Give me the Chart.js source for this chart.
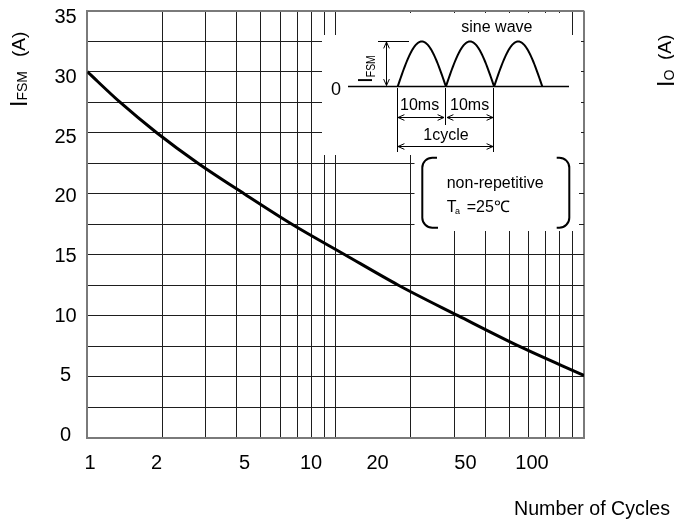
<!DOCTYPE html>
<html><head><meta charset="utf-8">
<script src="https://cdn.jsdelivr.net/npm/chart.js@4.4.0/dist/chart.umd.min.js"></script>
<style>html,body{margin:0;padding:0;background:#fff;}#wrap{width:674px;height:531px;position:relative;}</style>
</head><body><div id="wrap"><canvas id="c"></canvas></div>
<script>
// ---- data ----
const cycles = [1, 1.354, 1.903, 2.79, 4.28, 6.67, 10.9, 17.9, 31.1, 54.7, 100];
const ifsm   = [30, 27.5, 25.0, 22.5, 20.0, 17.5, 15.0, 12.5, 10.0, 7.5, 5.1];
const xGridValues = [1,2,3,4,5,6,7,8,9,10,20,30,40,50,60,70,80,90,100];
const xTickLabels = [1,2,5,10,20,50,100];
const yGridValues = [0,2.5,5,7.5,10,12.5,15,17.5,20,22.5,25,27.5,30,32.5,35];
const yTickLabels = [0,5,10,15,20,25,30,35];

const F = "'Liberation Sans', Arial, Helvetica, sans-serif";
const GRID = '#1e1e1e', FRAME = '#7a7a7a';

function txt(ctx, s, x, y, size, o) {
  o = o || {};
  ctx.save();
  ctx.font = size + 'px ' + F;
  ctx.fillStyle = '#000';
  ctx.textAlign = o.align || 'left';
  ctx.textBaseline = o.baseline || 'alphabetic';
  ctx.translate(x, y);
  if (o.rot) ctx.rotate(o.rot);
  if (o.sx) ctx.scale(o.sx, 1);
  ctx.fillText(s, 0, 0);
  ctx.restore();
}
function seg(ctx, x1, y1, x2, y2, w) {
  ctx.lineWidth = w || 1;
  ctx.beginPath(); ctx.moveTo(x1, y1); ctx.lineTo(x2, y2); ctx.stroke();
}
function head(ctx, x, y, ang) {
  const L = 7, a = 0.42;
  ctx.lineWidth = 1;
  ctx.beginPath();
  ctx.moveTo(x - L * Math.cos(ang - a), y - L * Math.sin(ang - a));
  ctx.lineTo(x, y);
  ctx.lineTo(x - L * Math.cos(ang + a), y - L * Math.sin(ang + a));
  ctx.stroke();
}
function vlabel(ctx, x, y, parts) {
  ctx.save();
  ctx.translate(x, y);
  ctx.rotate(-Math.PI / 2);
  ctx.fillStyle = '#000';
  ctx.textBaseline = 'alphabetic';
  for (const p of parts) {
    ctx.save();
    ctx.font = p.size + 'px ' + F;
    ctx.translate(p.dx, p.dy || 0);
    if (p.sx) ctx.scale(p.sx, 1);
    ctx.fillText(p.s, 0, 0);
    ctx.restore();
  }
  ctx.restore();
}

const insetPlugin = {
  id: 'inset',
  beforeDatasetsDraw(chart) {
    const ctx = chart.ctx;
    ctx.save();
    ctx.fillStyle = '#fff';
    ctx.fillRect(322, 35, 259, 120);
    ctx.fillRect(340, 13, 230, 22);
    ctx.fillRect(414.5, 155, 164.5, 76);
    ctx.restore();
  },
  afterDraw(chart) {
    const ctx = chart.ctx;
    ctx.save();
    ctx.strokeStyle = '#000';
    seg(ctx, 348, 86.5, 569, 86.5, 1.5);
    ctx.lineWidth = 2;
    ctx.beginPath();
    for (let k = 0; k < 3; k++) {
      const x0 = 397.7 + 48.2 * k;
      for (let i = 0; i <= 48; i++) {
        const t = i / 48;
        const px = x0 + 48.2 * t, py = 86.5 - 45 * Math.sin(Math.PI * t);
        if (i === 0) ctx.moveTo(px, py); else ctx.lineTo(px, py);
      }
    }
    ctx.stroke();
    seg(ctx, 378, 41.5, 409, 41.5, 1);
    seg(ctx, 386.5, 42, 386.5, 85.5, 1);
    head(ctx, 386.5, 42, -Math.PI / 2);
    head(ctx, 386.5, 85.5, Math.PI / 2);
    seg(ctx, 397.5, 88, 397.5, 152, 1);
    seg(ctx, 493.5, 88, 493.5, 152, 1);
    seg(ctx, 445.5, 88, 445.5, 125, 1);
    seg(ctx, 398, 117.5, 444, 117.5, 1);
    head(ctx, 398, 117.5, Math.PI); head(ctx, 444, 117.5, 0);
    seg(ctx, 447, 117.5, 493, 117.5, 1);
    head(ctx, 447, 117.5, Math.PI); head(ctx, 493, 117.5, 0);
    seg(ctx, 398, 146.5, 493, 146.5, 1);
    head(ctx, 398, 146.5, Math.PI); head(ctx, 493, 146.5, 0);
    ctx.lineWidth = 2;
    ctx.beginPath();
    ctx.moveTo(437, 157.7); ctx.arcTo(422.3, 157.7, 422.3, 172, 10);
    ctx.lineTo(422.3, 215); ctx.arcTo(422.3, 227.7, 438, 227.7, 10); ctx.lineTo(438, 227.7);
    ctx.stroke();
    ctx.beginPath();
    ctx.moveTo(556.7, 157.7); ctx.arcTo(569.3, 157.7, 569.3, 172, 10);
    ctx.lineTo(569.3, 215); ctx.arcTo(569.3, 227.7, 556.7, 227.7, 10); ctx.lineTo(556.7, 227.7);
    ctx.stroke();
    txt(ctx, 'sine wave', 461.3, 31.7, 16);
    txt(ctx, '0', 336, 95, 18, {align: 'center'});
    txt(ctx, '10ms', 400, 110, 16);
    txt(ctx, '10ms', 450, 110, 16);
    txt(ctx, '1cycle', 423.3, 140, 16);
    txt(ctx, 'non-repetitive', 446.7, 188.3, 16);
    txt(ctx, 'T', 446.7, 211.7, 16);
    txt(ctx, 'a', 455, 213.5, 9);
    txt(ctx, '=25\u2103', 466.7, 211.7, 16);
    vlabel(ctx, 371.7, 83, [
      {s: 'I', size: 21, dx: 0},
      {s: 'FSM', size: 13, dx: 5.8, dy: 3.3, sx: 0.8}
    ]);
    vlabel(ctx, 26.7, 107, [
      {s: 'I', size: 23, dx: 0},
      {s: 'FSM', size: 14, dx: 6.4, dy: 0},
      {s: '(A)', size: 19, dx: 50, dy: -2.2}
    ]);
    vlabel(ctx, 673.5, 87, [
      {s: 'I', size: 23, dx: 0},
      {s: 'O', size: 14, dx: 6.4, dy: 0},
      {s: '(A)', size: 19, dx: 27, dy: -2.2}
    ]);
    txt(ctx, 'Number of Cycles', 514, 515, 21, {sx: 0.935});
    ctx.restore();
  }
};

new Chart(document.getElementById('c'), {
  type: 'line',
  data: {
    datasets: [{
      data: cycles.map((c, i) => ({x: c, y: ifsm[i]})),
      borderColor: '#000', borderWidth: 3, pointRadius: 0,
      cubicInterpolationMode: 'monotone', fill: false
    }]
  },
  options: {
    responsive: true, maintainAspectRatio: false, animation: false,
    layout: {padding: {left: 0, right: 90, top: 0, bottom: 0}},
    plugins: {legend: {display: false}, tooltip: {enabled: false}},
    scales: {
      x: {
        type: 'logarithmic', position: 'bottom', min: 1, max: 100,
        afterBuildTicks: s => { s.ticks = xGridValues.map(v => ({value: v})); },
        afterFit: s => { s.height = 0; },
        ticks: {display: false},
        grid: {
          color: c => (c.tick && c.tick.value === 100) ? FRAME : GRID,
          lineWidth: c => (c.tick && c.tick.value === 100) ? 2 : 1,
          drawTicks: false
        },
        border: {display: true, color: FRAME, width: 2}
      },
      x2: {
        type: 'logarithmic', position: 'bottom', min: 0.972, max: 171.9,
        afterBuildTicks: s => { s.ticks = xTickLabels.map(v => ({value: v})); },
        afterFit: s => { s.height = 93.3; },
        grid: {display: false, drawTicks: false}, border: {display: false},
        ticks: {autoSkip: false, maxRotation: 0, minRotation: 0, padding: 14, color: '#000',
          font: {family: F, size: 20}, callback: v => String(v)}
      },
      y: {
        type: 'linear', position: 'left', min: 0, max: 35,
        afterBuildTicks: s => { s.ticks = yGridValues.map(v => ({value: v})); },
        afterFit: s => { s.width = 0; },
        ticks: {display: false},
        grid: {
          color: c => (c.tick && c.tick.value === 35) ? FRAME : GRID,
          lineWidth: c => (c.tick && c.tick.value === 35) ? 2 : 1,
          drawTicks: false
        },
        border: {display: true, color: FRAME, width: 2}
      },
      y2: {
        type: 'linear', position: 'left', min: -0.184, max: 35.58,
        afterBuildTicks: s => { s.ticks = yTickLabels.map(v => ({value: v})); },
        afterFit: s => { s.width = 87.3; },
        grid: {display: false, drawTicks: false}, border: {display: false},
        ticks: {autoSkip: false, crossAlign: 'center', padding: 10.6, color: '#000',
          font: {family: F, size: 20, lineHeight: 0.01}, callback: v => String(v)}
      }
    }
  },
  plugins: [insetPlugin]
});
</script></body></html>
